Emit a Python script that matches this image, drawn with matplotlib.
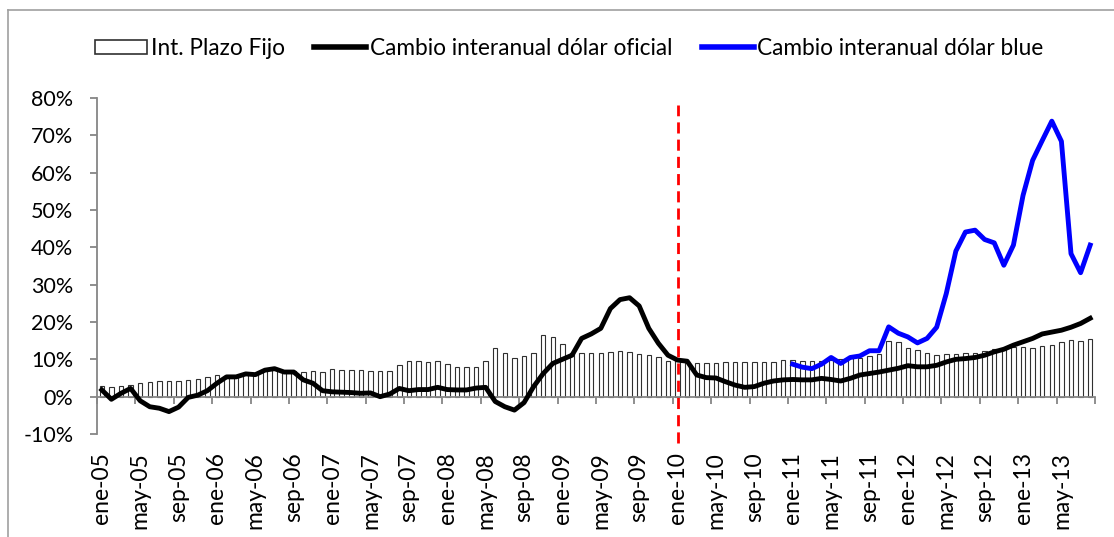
import numpy as np
import matplotlib
matplotlib.use("Agg")
import matplotlib.pyplot as plt
from matplotlib.lines import Line2D
from matplotlib.patches import Patch

plt.rcParams['font.family'] = ['Lato', 'DejaVu Sans']

# months: ene-05 .. ago-13
meses = ["ene", "feb", "mar", "abr", "may", "jun", "jul", "ago", "sep", "oct", "nov", "dic"]
anios = ["05", "06", "07", "08", "09", "10", "11", "12", "13"]
labels = [m + "-" + a for a in anios for m in meses][:104]

# Int. Plazo Fijo (%)
plazo_fijo = [
    2.9, 2.7, 2.9, 3.2, 3.7, 3.8, 4.2, 4.2, 4.2, 4.4, 4.6, 5.3,
    5.7, 5.5, 5.5, 6.2, 6.2, 7.1, 7.5, 7.0, 7.0, 6.7, 7.0, 6.5,
    7.4, 7.2, 7.2, 7.1, 7.0, 6.8, 7.0, 8.4, 9.5, 9.5, 9.2, 9.5,
    8.7, 8.0, 8.0, 8.0, 9.5, 13.0, 11.8, 10.3, 10.9, 11.8, 16.4, 16.0,
    14.1, 11.6, 11.7, 11.8, 11.8, 12.0, 12.1, 12.0, 11.4, 11.1, 10.5, 9.5,
    9.8, 9.3, 9.1, 9.0, 9.0, 9.2, 9.3, 9.4, 9.4, 9.4, 9.4, 9.7,
    9.7, 9.5, 9.5, 9.5, 9.9, 10.2, 10.4, 10.4, 10.9, 11.5, 14.9, 14.6,
    13.0, 12.5, 11.8, 11.1, 11.3, 11.4, 11.6, 11.8, 12.2, 12.7, 12.9, 13.2,
    13.2, 13.1, 13.6, 13.8, 14.7, 15.2, 15.0, 15.4,
]

# Cambio interanual dolar oficial (%)
oficial = [
    1.8, -0.7, 0.9, 2.2, -1.1, -2.7, -3.1, -4.0, -2.8, -0.2, 0.4, 1.6,
    3.6, 5.3, 5.3, 6.1, 5.9, 7.1, 7.5, 6.6, 6.6, 4.5, 3.6, 1.6,
    1.3, 1.2, 1.1, 0.9, 1.0, 0.0, 0.7, 2.2, 1.6, 1.9, 1.9, 2.5,
    1.9, 1.8, 1.8, 2.3, 2.5, -1.3, -2.7, -3.6, -1.6, 2.7, 6.2, 8.9,
    10.0, 11.1, 15.6, 16.8, 18.3, 23.6, 26.0, 26.5, 24.3, 18.3, 14.3, 11.1,
    9.8, 9.5, 5.8, 5.1, 5.0, 4.0, 3.1, 2.5, 2.7, 3.6, 4.2, 4.5,
    4.6, 4.5, 4.5, 4.9, 4.6, 4.2, 4.9, 5.8, 6.2, 6.6, 7.1, 7.6,
    8.3, 8.0, 8.0, 8.4, 9.3, 10.0, 10.2, 10.5, 11.1, 12.0, 12.7, 13.8,
    14.7, 15.6, 16.8, 17.3, 17.8, 18.6, 19.6, 21.0,
]

# Cambio interanual dolar blue (%), from ene-11
blue_inicio = 72
blue = [
    8.7, 7.9, 7.5, 8.7, 10.5, 8.9, 10.5, 10.9, 12.3, 12.3, 18.7, 17.0,
    16.0, 14.4, 15.6, 18.6, 27.6, 39.0, 44.1, 44.6, 42.1, 41.2, 35.2, 40.6,
    53.9, 63.3, 68.6, 73.8, 68.4, 38.3, 33.2, 40.6,
]

# dashed marker at ene-10
corte = labels.index("ene-10")

GRIS = "#868686"


def main():
    fig = plt.figure(figsize=(11.14, 5.37), dpi=100)
    ax = fig.add_axes([97 / 1114, 1 - 434 / 537, (1095 - 97) / 1114, (434 - 98) / 537])

    x = np.arange(len(labels))
    ax.bar(x, plazo_fijo, width=0.47, color="white", edgecolor="#303030",
           linewidth=0.8, zorder=2)
    ax.plot(x, oficial, color="black", lw=3.5, zorder=3, solid_joinstyle="round")
    xb = np.arange(blue_inicio, blue_inicio + len(blue))
    ax.plot(xb, blue, color="#0000ff", lw=3.5, zorder=4, solid_joinstyle="round")

    ax.axvline(corte, ymin=-0.027, ymax=0.978, color="#ff0000", lw=2,
               dashes=(4, 2.2), clip_on=False, zorder=5)

    ax.set_xlim(-0.5, len(labels) - 0.5)
    ax.set_ylim(-10, 80)
    ax.set_yticks(np.arange(-10, 81, 10))
    ax.set_yticklabels(["%d%%" % v for v in range(-10, 81, 10)])

    # axis at zero, labels at the bottom
    for s in ["top", "right"]:
        ax.spines[s].set_visible(False)
    ax.spines["left"].set_color(GRIS)
    ax.spines["left"].set_linewidth(1.3)
    ax.spines["bottom"].set_position(("data", 0))
    ax.spines["bottom"].set_color(GRIS)
    ax.spines["bottom"].set_linewidth(1.3)

    ax.set_xticks(np.arange(-0.5, len(labels), 4))
    ax.set_xticklabels([])
    ax.set_xticks(x[::4], [labels[i] for i in x[::4]], minor=True)
    ax.tick_params(axis="x", which="major", direction="out", length=5,
                   color=GRIS, width=1.3)
    ax.tick_params(axis="x", which="minor", length=0, pad=40,
                   labelsize=16.5, labelrotation=90)
    ax.tick_params(axis="y", direction="out", length=5, color=GRIS,
                   width=1.3, pad=12, labelsize=15.5)

    handles = [
        Patch(facecolor="white", edgecolor="#303030", linewidth=1.2),
        Line2D([], [], color="black", lw=4),
        Line2D([], [], color="#0000ff", lw=4),
    ]
    names = ["Int. Plazo Fijo", "Cambio interanual dólar oficial",
             "Cambio interanual dólar blue"]
    fig.legend(handles, names, loc="center", bbox_to_anchor=(0.511, 0.91),
               ncol=3, frameon=False, fontsize=16.3, handlelength=2.3,
               handleheight=0.55, handletextpad=0.15, columnspacing=1.3)

    # chart border
    fig.add_artist(Line2D([7.5 / 1114, 7.5 / 1114], [0, 1 - 10 / 537],
                          color="#a0a0a0", lw=1.2))
    fig.add_artist(Line2D([7.5 / 1114, 1], [1 - 10 / 537, 1 - 10 / 537],
                          color="#a0a0a0", lw=1.2))

    fig.savefig("out.png", dpi=100)


if __name__ == '__main__':
    main()
